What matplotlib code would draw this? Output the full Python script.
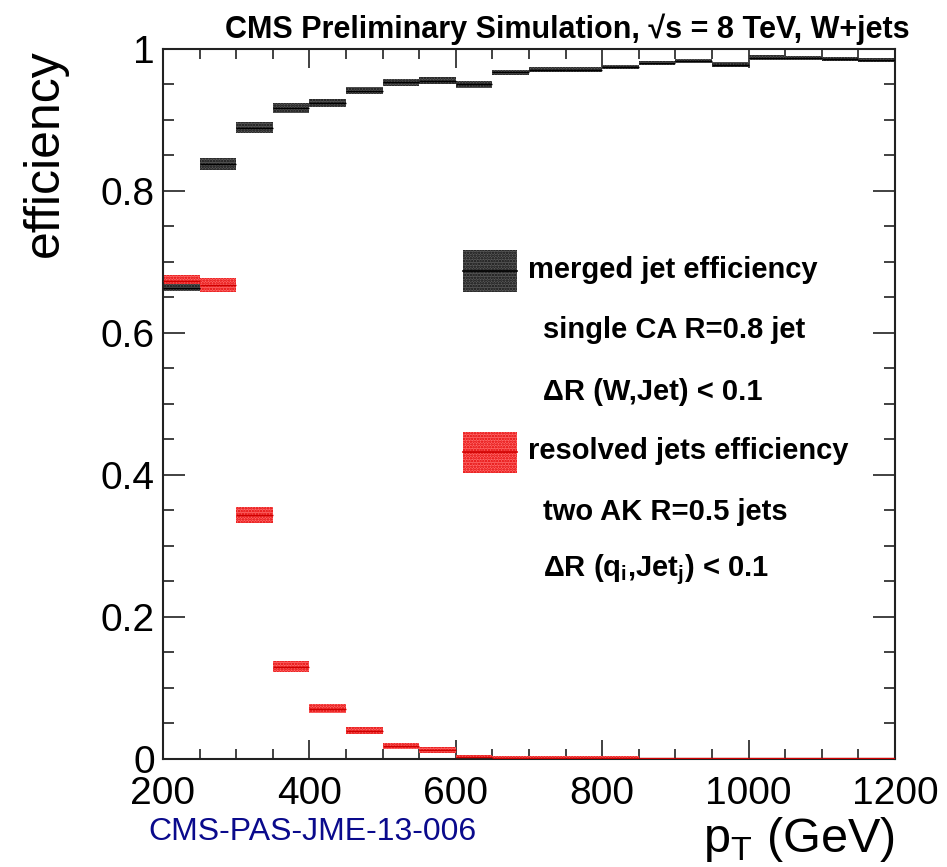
import numpy as np
import matplotlib
matplotlib.use('Agg')
import matplotlib.pyplot as plt
from matplotlib.patches import Rectangle
from matplotlib.ticker import MultipleLocator

plt.rcParams['font.family'] = ['Liberation Sans', 'DejaVu Sans']
plt.rcParams['mathtext.fontset'] = 'custom'
plt.rcParams['mathtext.rm'] = 'Liberation Sans'
plt.rcParams['mathtext.bf'] = 'Liberation Sans:bold'
plt.rcParams['hatch.linewidth'] = 1.2

# pT bins (GeV), 50 GeV wide
bin_edges = np.arange(200, 1201, 50)
bin_lo = bin_edges[:-1]

# merged jet efficiency (black) and its uncertainty
merged_eff = [0.664, 0.838, 0.889, 0.917, 0.924, 0.941, 0.953, 0.955, 0.950, 0.967,
              0.971, 0.971, 0.975, 0.980, 0.983, 0.978, 0.988, 0.987, 0.986, 0.984]
merged_err = [0.005, 0.009, 0.008, 0.007, 0.006, 0.005, 0.005, 0.005, 0.005, 0.004,
              0.004, 0.004, 0.003, 0.003, 0.003, 0.003, 0.003, 0.003, 0.003, 0.003]

# resolved jets efficiency (red) and its uncertainty
resolved_eff = [0.673, 0.668, 0.344, 0.130, 0.071, 0.040, 0.018, 0.013, 0.003, 0.002,
                0.002, 0.002, 0.002, 0.001, 0.001, 0.001, 0.001, 0.001, 0.001, 0.001]
resolved_err = [0.009, 0.010, 0.011, 0.008, 0.006, 0.005, 0.004, 0.004, 0.002, 0.002,
                0.002, 0.002, 0.002, 0.001, 0.001, 0.001, 0.001, 0.001, 0.001, 0.001]

fig = plt.figure(figsize=(9.47, 8.67), dpi=100)
ax = fig.add_axes([0.1721, 0.1246, 0.7730, 0.8189])

def draw_hist(eff, err, face, hatchcol, linecol):
    eff = np.array(eff)
    err = np.array(err)
    ax.bar(bin_lo, 2*err, bottom=eff-err, width=50, align='edge',
           facecolor=face, edgecolor=hatchcol, hatch='......', linewidth=0, zorder=2)
    ax.hlines(eff, bin_lo, bin_lo+50, color=linecol, lw=1.0, zorder=3)

draw_hist(resolved_eff, resolved_err, '#ff6a6a', '#e00000', '#d00000')
draw_hist(merged_eff, merged_err, '#5a5a5a', '#111111', '#000000')

ax.set_xlim(200, 1200)
ax.set_ylim(0, 1)
ax.set_xticks([200, 400, 600, 800, 1000, 1200])
ax.set_yticks([0, 0.2, 0.4, 0.6, 0.8, 1.0], ['0', '0.2', '0.4', '0.6', '0.8', '1'])
ax.xaxis.set_minor_locator(MultipleLocator(50))
ax.yaxis.set_minor_locator(MultipleLocator(0.05))
ax.tick_params(which='both', direction='in', top=True, right=True, width=1.3, colors='#333333',
               labelcolor='black')
ax.tick_params(axis='x', which='major', length=14, pad=12, labelsize=28)
ax.tick_params(axis='x', which='minor', length=7)
ax.tick_params(axis='y', which='major', length=16, pad=6, labelsize=28)
ax.tick_params(axis='y', which='minor', length=8)
for s in ax.spines.values():
    s.set_linewidth(1.5)
    s.set_color('#222222')

fig.text(45/947, 1-153/867, 'efficiency', rotation=90, fontsize=36, ha='center', va='center')
fig.text(895/947, 1-852/867, r'p$_{\mathrm{T}}$ (GeV)', fontsize=35, ha='right', va='baseline')
fig.text(148/947, 1-832/867, 'CMS-PAS-JME-13-006', fontsize=23, color='#0a0a8c',
         ha='left', va='center')
fig.text(910/947, 1-38/867, 'CMS Preliminary Simulation, √s = 8 TeV, W+jets',
         fontsize=22, fontweight='bold', ha='right', va='baseline')

# legend, drawn by hand in axes fraction
tr = ax.transAxes
ax.add_patch(Rectangle((0.410, 0.658), 0.0738, 0.059, transform=tr, facecolor='#5a5a5a',
                       edgecolor='#111111', hatch='......', lw=0, zorder=4))
ax.plot([0.410, 0.4838], [0.6875, 0.6875], transform=tr, color='black', lw=1.2, zorder=5)
ax.add_patch(Rectangle((0.410, 0.403), 0.0738, 0.058, transform=tr, facecolor='#ff6a6a',
                       edgecolor='#e00000', hatch='......', lw=0, zorder=4))
ax.plot([0.410, 0.4838], [0.432, 0.432], transform=tr, color='#d00000', lw=1.2, zorder=5)

leg_kw = dict(transform=tr, fontsize=21, fontweight='bold', va='center', ha='left')
ax.text(0.4986, 0.689, 'merged jet efficiency', **leg_kw)
ax.text(0.519, 0.604, 'single CA R=0.8 jet', **leg_kw)
ax.text(0.519, 0.517, 'ΔR (W,Jet) < 0.1', **leg_kw)
ax.text(0.4986, 0.434, 'resolved jets efficiency', **leg_kw)
ax.text(0.519, 0.348, 'two AK R=0.5 jets', **leg_kw)
ax.text(0.519, 0.266, r'ΔR (q$_{\mathbf{i}}$,Jet$_{\mathbf{j}}$) < 0.1', **leg_kw)

fig.savefig('out.png', dpi=100)
